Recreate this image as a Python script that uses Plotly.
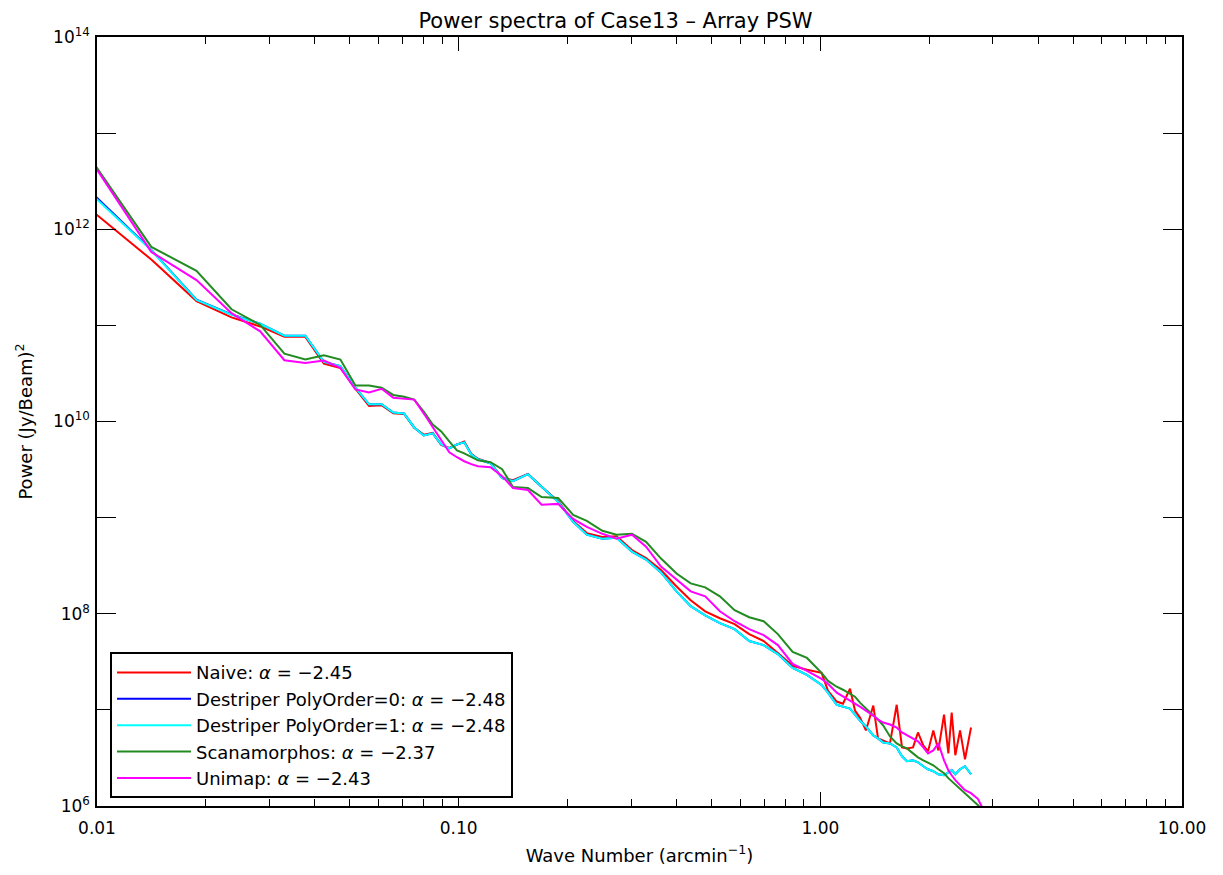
import plotly.graph_objects as go

# wave number grid (arcmin^-1)
wavenumber = [
    0.00942, 0.01413, 0.01884, 0.02355, 0.02826, 0.03297, 0.03768, 0.04239, 0.0471, 0.05181,
    0.05652, 0.06123, 0.06594, 0.07065, 0.07536, 0.08007, 0.08478, 0.08949, 0.0942, 0.09891,
    0.10362, 0.10833, 0.11304, 0.12246, 0.13188, 0.1413, 0.15543, 0.16956, 0.1884, 0.20724,
    0.22608, 0.24963, 0.27318, 0.30144, 0.3297, 0.36267, 0.40035, 0.43803, 0.48042, 0.52752,
    0.57933, 0.63585, 0.69708, 0.76302, 0.83838, 0.91845, 1.00794, 1.050, 1.110, 1.155,
    1.208, 1.247, 1.287, 1.337, 1.401, 1.444, 1.493, 1.558, 1.626, 1.682,
    1.736, 1.804, 1.862, 1.926, 1.985, 2.053, 2.120, 2.198, 2.259, 2.308,
    2.362, 2.434, 2.512, 2.610, 2.729, 2.853,
]

naive = [
    1.69e12, 4.84e11, 1.79e11, 1.21e11, 9.75e10, 7.6e10, 7.6e10, 4.0e10, 3.6e10, 2.2e10,
    1.45e10, 1.48e10, 1.22e10, 1.2e10, 8.6e9, 7.3e9, 7.6e9, 5.7e9, 5.3e9, 5.8e9,
    6.2e9, 4.6e9, 4.1e9, 3.7e9, 2.6e9, 2.45e9, 2.85e9, 2.1e9, 1.48e9, 9.2e8,
    6.9e8, 6.3e8, 6.4e8, 4.6e8, 3.8e8, 2.85e8, 1.92e8, 1.38e8, 1.06e8, 8.98e7,
    7.79e7, 6.14e7, 5.2e7, 3.91e7, 2.87e7, 2.61e7, 2.43e7, 1.58e7, 1.22e7, 1.16e7,
    1.66e7, 9.83e6, 8.32e6, 6.11e6, 1.11e7, 5.05e6, 4.81e6, 4.48e6, 1.13e7, 4.07e6,
    3.97e6, 4.07e6, 5.82e6, 4.27e6, 3.7e6, 6.11e6, 3.79e6, 8.93e6, 3.53e6, 9.37e6,
    3.37e6, 6.11e6, 3.06e6, 6.56e6, None, None,
]

destriper0 = [
    2.62e12, 6.1e11, 1.85e11, 1.3e11, 1.04e11, 7.8e10, 7.8e10, 4.17e10, 3.76e10, 2.25e10,
    1.51e10, 1.51e10, 1.24e10, 1.21e10, 8.67e9, 7.16e9, 7.52e9, 5.78e9, 5.26e9, 5.78e9,
    6.07e9, 4.56e9, 4.05e9, 3.68e9, 2.58e9, 2.4e9, 2.83e9, 2.08e9, 1.46e9, 9.04e8,
    6.64e8, 6.03e8, 6.18e8, 4.43e8, 3.66e8, 2.69e8, 1.71e8, 1.2e8, 9.64e7, 7.98e7,
    6.92e7, 5.2e7, 4.72e7, 3.81e7, 2.73e7, 2.31e7, 1.82e7, 1.51e7, 1.13e7, 1.08e7,
    1.03e7, 8.93e6, 7.74e6, 6.71e6, 5.42e6, 5.05e6, 4.58e6, 4.48e6, 4.07e6, 3.29e6,
    2.92e6, 2.99e6, 2.85e6, 2.59e6, 2.41e6, 2.3e6, 2.14e6, 2.09e6, 2.25e6, 2.36e6,
    2.14e6, 2.41e6, 2.59e6, 2.14e6, None, None,
]

destriper1 = [
    2.52e12, 6.04e11, 1.84e11, 1.29e11, 1.04e11, 7.8e10, 7.8e10, 4.17e10, 3.76e10, 2.25e10,
    1.51e10, 1.51e10, 1.24e10, 1.21e10, 8.67e9, 7.16e9, 7.52e9, 5.78e9, 5.26e9, 5.78e9,
    6.07e9, 4.56e9, 4.05e9, 3.68e9, 2.58e9, 2.4e9, 2.83e9, 2.08e9, 1.46e9, 9.04e8,
    6.64e8, 6.03e8, 6.18e8, 4.43e8, 3.66e8, 2.69e8, 1.71e8, 1.2e8, 9.64e7, 7.98e7,
    6.92e7, 5.2e7, 4.72e7, 3.81e7, 2.73e7, 2.31e7, 1.82e7, 1.51e7, 1.13e7, 1.08e7,
    1.03e7, 8.93e6, 7.74e6, 6.71e6, 5.42e6, 5.05e6, 4.58e6, 4.48e6, 4.07e6, 3.29e6,
    2.92e6, 2.99e6, 2.85e6, 2.59e6, 2.41e6, 2.3e6, 2.14e6, 2.09e6, 2.25e6, 2.36e6,
    2.14e6, 2.41e6, 2.59e6, 2.14e6, None, None,
]

scanamorphos = [
    5.99e12, 6.55e11, 3.7e11, 1.47e11, 1.01e11, 5.08e10, 4.41e10, 4.89e10, 4.41e10, 2.37e10,
    2.37e10, 2.25e10, 1.89e10, 1.81e10, 1.69e10, 1.27e10, 9.31e9, 7.89e9, 6.21e9, 5.01e9,
    4.67e9, 4.25e9, 3.95e9, 3.77e9, 3.19e9, 2.08e9, 2.03e9, 1.64e9, 1.6e9, 1.07e9,
    9.25e8, 7.3e8, 6.64e8, 6.79e8, 5.61e8, 3.75e8, 2.62e8, 2.07e8, 1.88e8, 1.52e8,
    1.09e8, 9.2e7, 8.36e7, 6.14e7, 4.0e7, 3.47e7, 2.43e7, 2.0e7, 1.74e7, 1.62e7,
    1.47e7, 1.37e7, 1.19e7, 1.03e7, 8.73e6, 7.93e6, 6.87e6, 5.29e6, 4.48e6, 4.17e6,
    3.97e6, 3.53e6, 3.21e6, 2.99e6, 2.85e6, 2.65e6, 2.41e6, 2.19e6, 1.95e6, 1.81e6,
    1.69e6, 1.53e6, 1.36e6, 1.21e6, 1.02e6, 8.47e5,
]

unimap = [
    5.86e12, 5.81e11, 2.96e11, 1.34e11, 8.66e10, 4.34e10, 4.07e10, 4.31e10, 3.61e10, 2.16e10,
    2.0e10, 2.19e10, 1.77e10, 1.73e10, 1.69e10, 1.21e10, 8.67e9, 6.37e9, 4.79e9, 4.25e9,
    3.86e9, 3.6e9, 3.43e9, 3.35e9, 2.7e9, 2.03e9, 1.94e9, 1.36e9, 1.39e9, 9.71e8,
    8.02e8, 6.79e8, 6.03e8, 6.64e8, 4.99e8, 3.1e8, 2.27e8, 1.71e8, 1.52e8, 1.06e8,
    8.36e7, 6.92e7, 6.0e7, 4.72e7, 3.01e7, 2.55e7, 2.1e7, 1.87e7, 1.51e7, 1.37e7,
    1.25e7, 1.16e7, 1.08e7, 9.83e6, 8.73e6, 7.93e6, 7.38e6, 7.05e6, 6.56e6, 5.82e6,
    5.42e6, 5.05e6, 4.7e6, 4.07e6, 3.53e6, 3.79e6, 4.48e6, 2.99e6, 2.36e6, 2.09e6,
    1.86e6, 1.65e6, 1.46e6, 1.36e6, 1.18e6, 8.47e5,
]

series_names = [
    "Naive: <i>α</i> = −2.45",
    "Destriper PolyOrder=0: <i>α</i> = −2.48",
    "Destriper PolyOrder=1: <i>α</i> = −2.48",
    "Scanamorphos: <i>α</i> = −2.37",
    "Unimap: <i>α</i> = −2.43",
]
series_colors = ["#FF0000", "#0000FF", "#00FFFF", "#228B22", "#FF00FF"]

x_tickvals = [0.01, 0.1, 1, 10]
x_ticktext = ["0.01", "0.10", "1.00", "10.00"]
y_exponents = [6, 8, 10, 12, 14]

fig = go.Figure()
for name, color, values in zip(series_names, series_colors,
                               [naive, destriper0, destriper1, scanamorphos, unimap]):
    fig.add_trace(go.Scatter(x=wavenumber, y=values, mode="lines", name=name,
                             line=dict(color=color, width=2)))

x_minor = [m * 10.0 ** e for e in (-2, -1, 0) for m in range(2, 10)]
y_minor = [10.0 ** e for e in (7, 9, 11, 13)]

fig.update_xaxes(
    type="log", range=[-2, 1],
    tickvals=x_tickvals, ticktext=x_ticktext,
    ticks="inside", ticklen=14, tickwidth=1, tickcolor="black",
    minor=dict(tickvals=x_minor, ticks="inside", ticklen=7, tickwidth=1,
               tickcolor="black", showgrid=False),
    showline=True, linecolor="black", linewidth=1.5, mirror="ticks",
    showgrid=False, zeroline=False, ticklabelstandoff=6,
    tickfont=dict(size=17),
    title=dict(text="Wave Number (arcmin<sup>−1</sup>)", font=dict(size=18), standoff=12),
)
fig.update_yaxes(
    type="log", range=[6, 14],
    tickvals=[10.0 ** e for e in y_exponents],
    ticktext=[f"10<sup>{e}</sup>" for e in y_exponents],
    ticks="inside", ticklen=19, tickwidth=1, tickcolor="black",
    minor=dict(tickvals=y_minor, ticks="inside", ticklen=19, tickwidth=1,
               tickcolor="black", showgrid=False),
    showline=True, linecolor="black", linewidth=1.5, mirror="ticks",
    showgrid=False, zeroline=False, ticklabelstandoff=2,
    tickfont=dict(size=17),
    title=dict(text="Power (Jy/Beam)<sup>2</sup>", font=dict(size=18), standoff=16),
)

# the page adds an 8px body margin, so the figure is 8px smaller than the window
fig.update_layout(
    width=1215, height=867,
    margin=dict(l=89, r=41, t=29, b=64),
    paper_bgcolor="white", plot_bgcolor="white",
    font=dict(family="DejaVu Sans", size=16, color="black"),
    title=dict(text="Power spectra of Case13 – Array PSW", x=0.5, xref="container",
               xanchor="center", y=1 - 13 / 867, yref="container", yanchor="middle",
               font=dict(size=21), pad=dict(t=0, b=0)),
    showlegend=True,
    legend=dict(x=0.012, y=0.2, xanchor="left", yanchor="top",
                bordercolor="black", borderwidth=2, bgcolor="white",
                font=dict(size=18), tracegroupgap=0, itemwidth=74),
)

fig.write_html("out.html")
